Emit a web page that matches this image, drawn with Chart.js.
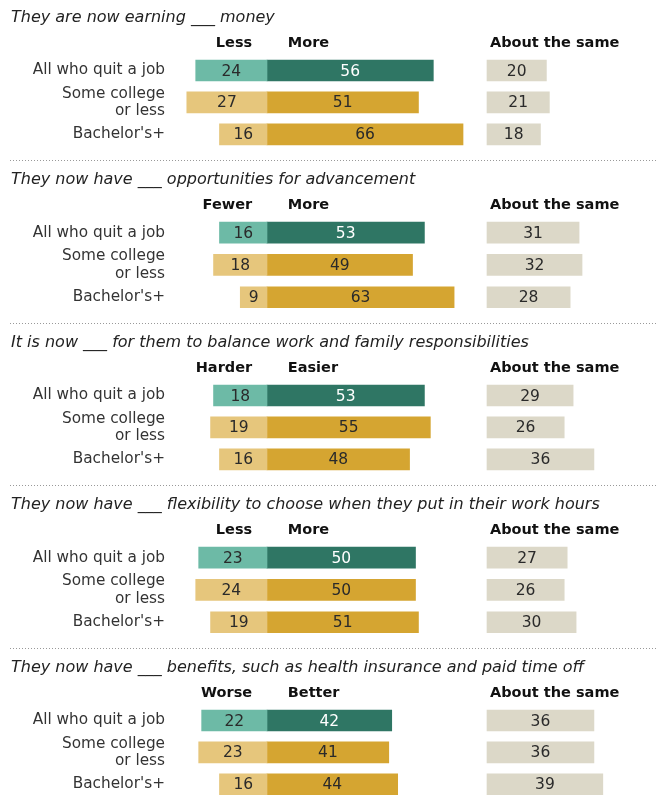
<!DOCTYPE html>
<html>
<head>
<meta charset="utf-8">
<script src="https://cdn.jsdelivr.net/npm/chart.js@4.4.1/dist/chart.umd.min.js"></script>
<style>
  html, body { margin: 0; padding: 0; background: #fff; overflow: hidden; }
  #wrap { position: relative; width: 657px; height: 795px; overflow: hidden; }
  .panel { position: absolute; left: 0; width: 657px; }
</style>
</head>
<body>
<div id="wrap"></div>
<script>
// data
var groups = ['All who quit a job', ['Some college', 'or less'], "Bachelor's+"];
var titles = [
    'They are now earning ___ money',
    'They now have ___ opportunities for advancement',
    'It is now ___ for them to balance work and family responsibilities',
    'They now have ___ flexibility to choose when they put in their work hours',
    'They now have ___ benefits, such as health insurance and paid time off'
];
var negLabels = ['Less', 'Fewer', 'Harder', 'Less', 'Worse'];
var posLabels = ['More', 'More', 'Easier', 'More', 'Better'];
var sameLabel = 'About the same';
var negValues = [[24, 27, 16], [16, 18, 9], [18, 19, 16], [23, 24, 19], [22, 23, 16]];
var posValues = [[56, 51, 66], [53, 49, 63], [53, 55, 48], [50, 50, 51], [42, 41, 44]];
var sameValues = [[20, 21, 18], [31, 32, 28], [29, 26, 36], [27, 26, 30], [36, 36, 39]];

var negColors = ['#6dbaa6', '#e6c67c', '#e6c67c'];
var posColors = ['#2f7664', '#d5a531', '#d5a531'];
var sameColor = '#dcd8c8';

var FONT = "'DejaVu Sans', sans-serif";
var PITCH = 162.4;
var PX = 2.97;        // pixels per percentage point
var LEFT = 168;       // chart area left edge
var ZERO = 267;       // divider between the two sides
var SAME0 = 487;      // start of "about the same" bars

var panelText = {
    id: 'panelText',
    afterDatasetsDraw: function (chart, args, opts) {
        var ctx = chart.ctx;
        var i = opts.index;
        var x = chart.scales.x, x2 = chart.scales.x2;
        ctx.save();
        // title
        ctx.font = 'italic 16px ' + FONT;
        ctx.fillStyle = '#222';
        ctx.textAlign = 'left';
        ctx.textBaseline = 'middle';
        ctx.fillText(titles[i], 11, 18);
        // column headers
        ctx.font = 'bold 14.5px ' + FONT;
        ctx.fillStyle = '#111';
        ctx.textAlign = 'right';
        ctx.fillText(negLabels[i], x.getPixelForValue(-5), 43);
        ctx.textAlign = 'left';
        ctx.fillText(posLabels[i], x.getPixelForValue(7), 43);
        ctx.fillText(sameLabel, x2.getPixelForValue(1), 43);
        // value labels
        ctx.font = '15.5px ' + FONT;
        ctx.textAlign = 'center';
        chart.data.datasets.forEach(function (ds, d) {
            chart.getDatasetMeta(d).data.forEach(function (el, k) {
                ctx.fillStyle = (d === 1 && k === 0) ? '#fff' : '#2a2a2a';
                ctx.fillText(Math.abs(ds.data[k]), (el.x + el.base) / 2, el.y + 1);
            });
        });
        // dotted separator
        ctx.strokeStyle = '#999';
        ctx.lineWidth = 1;
        ctx.setLineDash([1, 2]);
        ctx.beginPath();
        var yy = chart.height - 1.5;
        ctx.moveTo(10, yy);
        ctx.lineTo(657, yy);
        ctx.stroke();
        ctx.restore();
    }
};

var wrap = document.getElementById('wrap');
titles.forEach(function (t, i) {
    var top = Math.round(i * PITCH);
    var h = Math.round((i + 1) * PITCH) - top;
    var div = document.createElement('div');
    div.className = 'panel';
    div.style.top = top + 'px';
    div.style.height = h + 'px';
    var canvas = document.createElement('canvas');
    div.appendChild(canvas);
    wrap.appendChild(div);

    var rowsH = 3 * 32.7;
    new Chart(canvas.getContext('2d'), {
        type: 'bar',
        data: {
            labels: groups,
            datasets: [{
                label: negLabels[i],
                data: negValues[i].map(function (v) { return -v; }),
                backgroundColor: negColors,
                xAxisID: 'x'
            }, {
                label: posLabels[i],
                data: posValues[i],
                backgroundColor: posColors,
                xAxisID: 'x'
            }, {
                label: sameLabel,
                data: sameValues[i],
                backgroundColor: sameColor,
                xAxisID: 'x2'
            }]
        },
        options: {
            indexAxis: 'y',
            responsive: true,
            maintainAspectRatio: false,
            animation: false,
            layout: {
                padding: { top: 54.5, bottom: h - 54.5 - rowsH, left: 0, right: 0 }
            },
            datasets: {
                bar: { grouped: false, barThickness: 21, borderWidth: 0 }
            },
            scales: {
                y: {
                    grid: { display: false, drawTicks: false },
                    border: { display: false },
                    ticks: {
                        autoSkip: false,
                        padding: 3,
                        color: '#333',
                        font: { family: FONT, size: 15.3, lineHeight: 1.13 }
                    },
                    afterFit: function (s) { s.width = LEFT; }
                },
                x: {
                    display: false,
                    min: (LEFT - ZERO) / PX,
                    max: (657 - ZERO) / PX
                },
                x2: {
                    display: false,
                    position: 'bottom',
                    min: (LEFT - SAME0) / PX,
                    max: (657 - SAME0) / PX
                }
            },
            plugins: {
                legend: { display: false },
                tooltip: { enabled: false },
                panelText: { index: i }
            }
        },
        plugins: [panelText]
    });
});
</script>
</body>
</html>
